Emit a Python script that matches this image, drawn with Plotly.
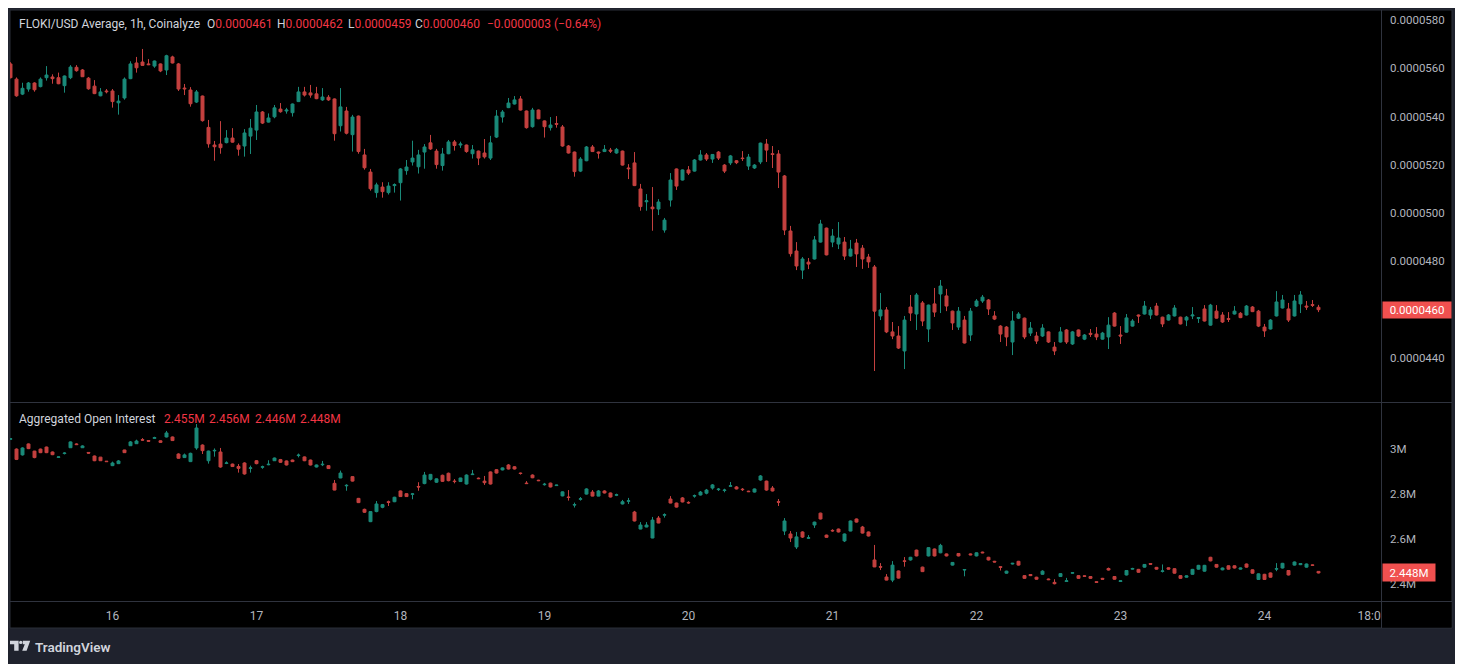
import plotly.graph_objects as go
import pandas as pd

# ---------------- data ----------------
start_time = "2024-01-15 07:00"
n_candles = 219
times = pd.date_range(start_time, periods=n_candles, freq="h")

# FLOKI/USD price, in units of 1e-7 USD
price_open = [561.8,555.5,549.3,551.4,553.9,552.4,556.1,556.4,556.1,552.8,556.1,560.4,559.3,555.9,552.6,548.6,550.6,550.6,545.7,547.7,
 555.7,562.2,562.6,561.8,560.9,561.8,559.3,564.7,561.8,551.8,551.0,546.0,548.5,535.5,528.2,528.6,529.2,531.1,528.1,527.8,
 531.9,534.4,541.9,537.7,539.9,543.1,542.3,541.6,546.2,550.2,549.8,549.4,546.9,548.0,547.3,536.2,542.3,532.5,540.2,524.1,
 517.0,508.5,510.8,508.5,511.4,512.6,517.6,521.2,519.2,525.3,529.1,525.7,519.7,524.6,529.5,528.2,528.2,524.6,525.7,524.9,
 522.8,531.5,539.8,543.7,545.2,547.3,542.3,535.8,542.7,538.2,535.4,537.1,535.7,527.8,525.3,517.4,521.7,527.4,525.3,525.5,
 526.1,524.9,525.7,518.7,520.8,510.0,504.7,502.5,501.7,493.0,505.4,518.3,513.7,517.9,517.4,522.0,524.1,522.4,525.3,519.9,
 520.8,521.7,522.8,519.5,518.7,521.2,528.6,524.6,524.5,515.4,492.6,484.3,476.4,479.7,481.0,488.0,493.8,488.0,487.2,488.0,
 482.2,487.6,485.5,481.8,477.7,457.4,459.9,450.8,449.1,442.9,461.1,458.2,462.8,452.0,462.4,466.5,465.7,459.4,452.8,455.7,
 449.5,461.5,463.6,464.0,457.4,453.2,452.8,446.6,456.5,456.5,450.3,449.1,449.1,450.8,444.5,446.6,451.6,445.8,451.6,447.8,
 450.2,449.9,447.8,448.7,458.6,449.5,450.7,453.2,457.8,458.2,457.8,461.5,456.9,455.7,457.4,456.9,455.7,457.4,456.4,460.3,
 453.6,459.4,457.8,456.3,458.2,458.5,457.8,461.1,459.4,452.8,452.0,457.4,460.7,460.3,457.4,462.4,461.5,462.1,461.0]
price_high = [562.5,556.2,554.0,554.3,554.2,556.2,560.9,557.5,558.2,557.0,561.3,561.3,559.7,556.4,555.1,551.8,551.4,551.4,548.9,556.2,
 562.9,564.7,568.0,563.8,563.2,562.0,565.6,565.2,562.2,553.5,552.2,551.0,548.7,538.6,529.9,538.1,534.4,535.2,528.9,534.8,
 539.0,544.8,542.3,541.3,544.8,545.6,543.6,545.4,552.3,552.3,553.1,552.3,551.8,548.9,547.5,551.8,544.0,540.7,540.4,526.6,
 518.3,512.6,512.8,512.8,512.3,518.7,522.0,530.0,526.2,528.6,532.4,526.6,527.0,530.3,530.3,529.6,528.4,528.2,525.9,530.7,
 532.0,542.7,542.7,547.7,548.5,548.5,542.5,543.6,542.9,538.4,539.8,540.2,536.5,528.2,525.5,523.2,527.8,528.2,525.5,528.2,
 527.0,527.0,525.9,520.3,525.3,512.1,507.9,510.8,505.8,498.0,516.6,518.5,518.1,519.5,522.4,526.1,524.9,524.5,525.7,520.3,
 524.1,522.0,525.7,524.5,520.3,529.2,530.7,527.8,526.1,515.8,494.7,488.0,481.8,481.4,490.5,497.2,494.0,493.4,496.3,490.1,
 488.9,489.3,486.8,483.1,478.5,466.9,461.1,454.9,453.2,457.4,466.1,466.9,463.6,462.1,469.0,472.3,468.6,459.6,461.1,457.4,
 460.7,464.4,466.1,464.4,459.4,453.6,453.2,459.4,459.0,456.7,454.9,450.8,454.0,451.0,446.6,452.8,452.0,451.2,451.8,449.9,
 452.0,452.8,450.8,456.9,459.0,453.2,458.2,456.1,458.0,463.6,461.1,462.8,457.1,458.2,461.9,457.1,457.4,461.1,456.9,461.9,
 462.4,461.9,459.0,459.0,461.5,459.0,461.9,461.5,459.9,454.1,456.1,467.7,466.1,462.8,466.1,467.7,463.6,464.0,462.0]
price_low = [555.8,548.2,548.9,550.3,550.3,552.1,554.9,553.6,553.4,549.9,555.5,558.6,556.4,551.1,549.3,548.4,549.6,543.7,540.8,547.0,
 555.5,558.2,561.1,561.3,560.2,558.4,557.2,562.0,550.6,548.9,544.1,545.6,537.9,527.1,521.7,524.6,528.9,529.2,523.8,523.4,
 524.5,530.3,536.9,537.5,539.3,541.6,541.2,540.0,546.0,548.3,547.8,547.2,546.5,546.5,530.0,533.8,532.6,525.5,524.6,518.0,
 509.3,506.4,506.4,507.7,508.5,505.2,515.9,519.7,516.4,518.4,526.2,518.4,517.6,524.4,525.9,527.0,525.0,522.6,519.9,522.6,
 522.0,531.1,537.5,543.5,545.0,542.5,535.0,535.4,538.9,531.3,534.2,535.4,527.5,524.7,515.1,517.0,521.5,525.3,522.6,525.3,
 524.9,524.6,519.7,514.1,511.2,501.0,501.0,492.7,499.2,491.9,502.7,509.6,513.5,515.8,517.2,521.8,521.6,520.8,522.0,516.6,
 519.9,520.3,521.6,517.9,518.3,520.3,521.2,518.7,510.4,490.9,482.0,476.4,472.7,476.8,480.8,487.8,482.5,485.9,485.1,480.6,
 482.0,477.7,476.9,477.3,434.6,455.7,450.3,447.8,443.7,435.4,455.3,451.6,453.2,446.6,457.0,458.6,459.4,451.6,451.6,446.0,
 447.0,461.1,462.8,457.8,455.7,446.6,444.9,441.2,456.1,447.8,449.1,445.8,448.7,446.2,441.2,446.4,445.8,445.4,448.7,447.4,
 448.7,447.4,447.6,443.7,453.0,445.8,450.5,453.0,454.5,458.0,456.1,457.6,452.8,455.5,457.2,453.9,453.2,456.1,454.5,455.1,
 453.4,456.3,454.5,454.9,458.0,456.5,457.6,459.0,452.8,448.7,451.8,457.2,460.5,454.9,457.2,458.6,459.9,461.1,459.0]
price_close = [556.1,548.6,551.7,553.9,551.1,555.5,557.2,555.7,553.6,556.8,560.5,559.0,556.5,551.5,549.5,550.2,550.3,546.2,546.4,555.5,
 561.8,560.2,561.2,561.5,563.0,558.9,565.2,562.2,551.4,551.5,545.3,550.2,538.3,528.7,527.5,527.1,531.1,529.4,526.5,533.2,
 535.2,541.9,537.3,539.4,543.6,542.0,542.7,545.2,550.2,548.9,548.9,547.4,548.1,546.9,532.9,544.0,533.1,539.8,525.5,518.8,
 510.1,511.7,508.9,511.2,511.8,518.3,519.1,522.8,524.1,527.4,526.6,520.1,524.5,529.5,528.0,528.6,525.5,526.2,522.8,523.3,
 529.1,540.2,541.9,545.6,546.9,542.7,535.4,542.7,539.1,535.8,536.5,536.8,527.8,524.9,517.2,522.4,527.4,525.5,524.9,526.4,
 525.7,526.4,519.9,518.4,511.4,502.7,505.1,501.8,504.6,497.1,513.7,511.2,517.9,516.6,522.0,524.1,522.4,524.3,522.8,517.4,
 523.7,520.9,522.6,523.2,519.9,529.0,526.1,524.3,517.0,493.0,483.2,478.1,481.0,478.9,488.9,495.5,482.7,490.5,489.7,482.2,
 485.1,483.1,481.0,479.8,459.4,459.9,450.8,449.1,444.1,455.7,458.6,466.1,455.3,461.9,459.0,469.8,461.5,454.5,459.4,446.2,
 459.4,463.6,465.2,460.3,456.1,449.9,448.7,455.3,458.2,448.7,452.4,447.0,452.4,446.6,442.9,450.8,446.6,450.8,449.1,449.5,
 449.8,448.7,450.3,453.6,453.2,449.1,456.6,455.3,457.4,461.5,459.9,457.8,454.1,457.8,460.7,454.1,456.9,457.8,456.7,455.3,
 461.9,456.5,454.9,456.0,459.4,456.7,461.5,459.2,453.2,451.2,455.7,463.2,464.0,455.7,463.6,466.1,461.1,461.8,460.0]

# Aggregated open interest, in millions
oi_open = [3.045,3.001,2.975,3.024,2.992,3.001,3.010,2.988,2.964,2.981,3.007,3.024,3.007,2.986,2.970,2.965,2.947,2.927,2.936,2.997,
 3.016,3.025,3.043,3.039,3.049,3.038,3.055,3.055,2.979,2.963,2.945,3.006,3.019,2.949,2.993,2.988,2.937,2.934,2.923,2.939,
 2.915,2.949,2.920,2.931,2.949,2.954,2.948,2.952,2.972,2.966,2.952,2.921,2.931,2.927,2.848,2.872,2.837,2.878,2.781,2.732,
 2.677,2.722,2.741,2.766,2.766,2.814,2.802,2.799,2.834,2.847,2.866,2.853,2.884,2.893,2.858,2.856,2.845,2.887,2.871,2.858,
 2.899,2.909,2.908,2.930,2.922,2.894,2.849,2.885,2.862,2.842,2.849,2.838,2.792,2.787,2.751,2.777,2.800,2.809,2.791,2.814,
 2.805,2.795,2.756,2.768,2.720,2.644,2.653,2.604,2.693,2.706,2.778,2.760,2.783,2.763,2.791,2.796,2.804,2.827,2.820,2.816,
 2.835,2.832,2.822,2.813,2.809,2.863,2.858,2.827,2.766,2.635,2.622,2.564,2.631,2.603,2.662,2.715,2.617,2.638,2.644,2.591,
 2.635,2.689,2.653,2.631,2.506,2.476,2.430,2.416,2.457,2.502,2.506,2.550,2.474,2.524,2.555,2.538,2.533,2.483,2.535,2.461,
 2.533,2.524,2.541,2.518,2.500,2.476,2.447,2.488,2.500,2.436,2.441,2.429,2.442,2.421,2.406,2.432,2.410,2.447,2.436,2.435,
 2.432,2.409,2.424,2.468,2.432,2.410,2.439,2.465,2.464,2.474,2.490,2.473,2.455,2.471,2.467,2.436,2.429,2.442,2.465,2.456,
 2.518,2.486,2.462,2.480,2.480,2.465,2.488,2.462,2.419,2.442,2.448,2.465,2.470,2.459,2.483,2.485,2.474,2.484,2.455]
oi_high = [3.048,3.004,3.009,3.026,2.993,3.003,3.012,2.990,2.968,2.987,3.035,3.027,3.018,2.987,2.972,2.966,2.948,2.945,2.952,2.998,
 3.037,3.043,3.050,3.040,3.056,3.040,3.082,3.057,2.982,2.981,2.985,3.113,3.022,2.994,3.004,3.006,2.946,2.936,2.934,2.942,
 2.927,2.952,2.927,2.951,2.963,2.957,2.950,2.954,2.981,2.968,2.954,2.932,2.948,2.929,2.863,2.905,2.844,2.880,2.783,2.735,
 2.724,2.769,2.756,2.771,2.788,2.816,2.804,2.805,2.853,2.899,2.890,2.870,2.887,2.896,2.867,2.873,2.888,2.908,2.874,2.881,
 2.901,2.912,2.919,2.934,2.925,2.896,2.858,2.888,2.864,2.850,2.851,2.842,2.812,2.818,2.762,2.787,2.826,2.818,2.818,2.817,
 2.807,2.802,2.774,2.783,2.725,2.675,2.675,2.698,2.702,2.714,2.791,2.762,2.787,2.768,2.798,2.814,2.823,2.845,2.827,2.824,
 2.854,2.836,2.827,2.815,2.825,2.885,2.860,2.836,2.778,2.693,2.635,2.631,2.634,2.617,2.677,2.717,2.619,2.643,2.646,2.624,
 2.682,2.691,2.658,2.633,2.573,2.492,2.443,2.501,2.459,2.519,2.520,2.552,2.476,2.563,2.557,2.578,2.535,2.497,2.537,2.463,
 2.535,2.540,2.543,2.520,2.502,2.478,2.458,2.493,2.502,2.438,2.443,2.431,2.460,2.423,2.420,2.447,2.426,2.451,2.438,2.437,
 2.434,2.411,2.426,2.472,2.434,2.415,2.461,2.471,2.466,2.488,2.492,2.475,2.486,2.473,2.469,2.438,2.437,2.466,2.484,2.484,
 2.520,2.488,2.472,2.482,2.482,2.472,2.490,2.464,2.446,2.444,2.450,2.492,2.493,2.461,2.499,2.492,2.490,2.486,2.456]
oi_low = [3.044,2.952,2.972,3.001,2.960,2.983,2.983,2.974,2.962,2.977,3.006,3.019,3.006,2.980,2.947,2.948,2.944,2.925,2.934,2.984,
 3.015,3.024,3.038,3.034,3.047,3.029,3.053,3.037,2.958,2.961,2.943,2.998,2.979,2.936,2.967,2.918,2.934,2.921,2.896,2.887,
 2.896,2.933,2.913,2.929,2.948,2.939,2.928,2.943,2.964,2.947,2.928,2.919,2.925,2.912,2.817,2.871,2.815,2.856,2.760,2.716,
 2.675,2.719,2.737,2.747,2.764,2.787,2.787,2.777,2.815,2.844,2.861,2.850,2.854,2.857,2.848,2.855,2.843,2.885,2.867,2.841,
 2.843,2.892,2.906,2.910,2.910,2.887,2.845,2.871,2.858,2.838,2.830,2.836,2.790,2.771,2.740,2.771,2.798,2.790,2.790,2.803,
 2.785,2.791,2.754,2.756,2.678,2.643,2.652,2.603,2.670,2.695,2.759,2.740,2.763,2.757,2.784,2.794,2.799,2.820,2.814,2.808,
 2.833,2.821,2.814,2.809,2.807,2.860,2.815,2.812,2.747,2.617,2.586,2.555,2.604,2.600,2.649,2.687,2.605,2.632,2.629,2.586,
 2.634,2.673,2.624,2.611,2.474,2.461,2.415,2.407,2.423,2.476,2.503,2.522,2.452,2.522,2.522,2.536,2.522,2.481,2.522,2.433,
 2.527,2.522,2.536,2.504,2.495,2.459,2.445,2.486,2.481,2.422,2.434,2.418,2.440,2.416,2.397,2.430,2.409,2.445,2.422,2.431,
 2.422,2.404,2.418,2.459,2.418,2.408,2.437,2.463,2.449,2.472,2.485,2.463,2.450,2.463,2.445,2.422,2.427,2.440,2.463,2.454,
 2.500,2.472,2.460,2.463,2.468,2.463,2.472,2.445,2.417,2.417,2.427,2.456,2.468,2.437,2.481,2.483,2.472,2.480,2.446]
oi_close = [3.047,2.955,3.006,3.003,2.963,2.985,2.985,2.976,2.966,2.983,3.033,3.021,3.015,2.983,2.949,2.949,2.945,2.939,2.948,2.985,
 3.033,3.037,3.041,3.036,3.052,3.031,3.073,3.039,2.960,2.975,2.982,3.095,2.994,2.992,2.995,2.921,2.939,2.923,2.915,2.890,
 2.917,2.936,2.922,2.933,2.961,2.942,2.930,2.945,2.974,2.949,2.930,2.930,2.933,2.914,2.818,2.894,2.839,2.858,2.762,2.719,
 2.722,2.756,2.753,2.763,2.786,2.789,2.789,2.801,2.832,2.885,2.888,2.868,2.857,2.860,2.856,2.872,2.885,2.889,2.869,2.851,
 2.845,2.894,2.917,2.912,2.912,2.892,2.847,2.873,2.860,2.844,2.832,2.840,2.810,2.785,2.753,2.779,2.823,2.791,2.814,2.805,
 2.787,2.797,2.766,2.770,2.680,2.662,2.662,2.684,2.671,2.708,2.760,2.742,2.765,2.761,2.793,2.809,2.818,2.841,2.822,2.818,
 2.837,2.823,2.820,2.811,2.823,2.881,2.818,2.814,2.764,2.680,2.604,2.609,2.608,2.605,2.675,2.689,2.607,2.636,2.631,2.622,
 2.680,2.675,2.626,2.613,2.475,2.474,2.416,2.483,2.425,2.500,2.518,2.524,2.454,2.561,2.524,2.571,2.524,2.495,2.524,2.463,
 2.529,2.538,2.538,2.506,2.497,2.473,2.456,2.491,2.483,2.424,2.436,2.420,2.456,2.418,2.400,2.445,2.413,2.449,2.424,2.433,
 2.424,2.406,2.420,2.461,2.420,2.413,2.459,2.468,2.451,2.486,2.487,2.465,2.457,2.465,2.447,2.424,2.435,2.464,2.482,2.482,
 2.502,2.474,2.470,2.465,2.470,2.470,2.474,2.447,2.444,2.419,2.429,2.467,2.491,2.439,2.497,2.490,2.488,2.482,2.448]

price_ticks = [440, 460, 480, 500, 520, 540, 560, 580]          # x 1e-7
oi_ticks = [2.4, 2.6, 2.8, 3.0]                                   # millions
oi_tick_text = ["2.4M", "2.6M", "2.8M", "3M"]
day_ticks = ["2024-01-16", "2024-01-17", "2024-01-18", "2024-01-19", "2024-01-20",
             "2024-01-21", "2024-01-22", "2024-01-23", "2024-01-24", "2024-01-24 18:00"]
day_tick_text = ["16", "17", "18", "19", "20", "21", "22", "23", "24", "18:00"]

header_title = "FLOKI/USD Average, 1h, Coinalyze"
header_pairs = [("O", "0.0000461"), ("H", "0.0000462"), ("L", "0.0000459"), ("C", "0.0000460")]
header_change = "\u22120.0000003 (\u22120.64%)"
oi_title = "Aggregated Open Interest"
oi_values = ["2.455M", "2.456M", "2.446M", "2.448M"]

# ---------------- styling / layout ----------------
W, H = 1463, 664
OFF = 8          # page body margin of the browser
PL, PR, PT, PB = 10, 1381, 10, 601   # plot area in screenshot pixels


def px(x):
    return (x - PL) / (PR - PL)


def py(y):
    return (PB - y) / (PB - PT)


UP = "#1a8a79"
DOWN = "#c4403f"
LABEL_RED = "#f23645"
TXT = "#d1d4dc"
AX = "#b2b5be"
LINE = "#2f333e"
FONT = "Roboto"

p_o = [v * 1e-7 for v in price_open]
p_h = [v * 1e-7 for v in price_high]
p_l = [v * 1e-7 for v in price_low]
p_c = [v * 1e-7 for v in price_close]
o_o = [v * 1e6 for v in oi_open]
o_h = [v * 1e6 for v in oi_high]
o_l = [v * 1e6 for v in oi_low]
o_c = [v * 1e6 for v in oi_close]

fig = go.Figure()
fig.add_trace(go.Candlestick(
    x=times, open=p_o, high=p_h, low=p_l, close=p_c, xaxis="x", yaxis="y",
    increasing=dict(line=dict(color=UP, width=1), fillcolor=UP),
    decreasing=dict(line=dict(color=DOWN, width=1), fillcolor=DOWN),
    whiskerwidth=0, showlegend=False, hoverinfo="skip"))
fig.add_trace(go.Candlestick(
    x=times, open=o_o, high=o_h, low=o_l, close=o_c, xaxis="x", yaxis="y2",
    increasing=dict(line=dict(color=UP, width=1), fillcolor=UP),
    decreasing=dict(line=dict(color=DOWN, width=1), fillcolor=DOWN),
    whiskerwidth=0, showlegend=False, hoverinfo="skip"))

shapes = [
    # black chart canvas
    dict(type="rect", xref="paper", yref="paper", layer="below",
         x0=px(10), x1=px(1452), y0=py(628), y1=py(10),
         fillcolor="#000000", line=dict(color="#2a2e39", width=1)),
    # cover for clipped time label under price scale
    dict(type="rect", xref="paper", yref="paper", layer="above",
         x0=px(1381.5), x1=px(1451.5), y0=py(627.5), y1=py(601.5),
         fillcolor="#000000", line=dict(width=0)),
    # pane separators
    dict(type="line", xref="paper", yref="paper", layer="above",
         x0=px(10), x1=px(1452), y0=py(402.5), y1=py(402.5), line=dict(color=LINE, width=1)),
    dict(type="line", xref="paper", yref="paper", layer="above",
         x0=px(10), x1=px(1452), y0=py(601.5), y1=py(601.5), line=dict(color=LINE, width=1)),
    dict(type="line", xref="paper", yref="paper", layer="above",
         x0=px(1381.5), x1=px(1381.5), y0=py(628), y1=py(10), line=dict(color=LINE, width=1)),
    # TradingView logo
    dict(type="path", xref="paper", yref="paper", layer="above",
         path=f"M {px(10)} {py(640.7)} L {px(18.6)} {py(640.7)} L {px(18.6)} {py(650.7)} L {px(14.2)} {py(650.7)} "
              f"L {px(14.2)} {py(644.2)} L {px(10)} {py(644.2)} Z",
         fillcolor=TXT, line=dict(width=0)),
    dict(type="circle", xref="paper", yref="paper", layer="above",
         x0=px(19.1), x1=px(22.4), y0=py(644.1), y1=py(640.8),
         fillcolor=TXT, line=dict(width=0)),
    dict(type="path", xref="paper", yref="paper", layer="above",
         path=f"M {px(22.8)} {py(640.7)} L {px(30.2)} {py(640.7)} L {px(26.6)} {py(650.7)} L {px(22.2)} {py(650.7)} "
              f"L {px(24.8)} {py(644.2)} L {px(22.8)} {py(644.2)} Z",
         fillcolor=TXT, line=dict(width=0)),
]

annotations = []


def text_ann(x, y, text, color=TXT, size=12):
    annotations.append(dict(xref="paper", yref="paper", x=px(x), y=py(y), text=text,
                            showarrow=False, xanchor="left", yanchor="middle",
                            font=dict(family=FONT, size=size, color=color)))


text_ann(16.5, 24, header_title)
pair_x = [205, 275, 346, 413]
for (lab, val), xx in zip(header_pairs, pair_x):
    text_ann(xx, 24, f"{lab}<span style='color:{LABEL_RED}'>{val}</span>")
text_ann(485, 24, header_change, color=LABEL_RED)

text_ann(16.5, 419, oi_title)
for val, xx in zip(oi_values, [161.5, 206.5, 252.5, 297.5]):
    text_ann(xx, 419, val, color=LABEL_RED)

annotations.append(dict(xref="paper", yref="paper", x=px(33), y=py(646.5), text="TradingView",
                        showarrow=False, xanchor="left", yanchor="middle",
                        font=dict(family=FONT, size=13.5, color=TXT, weight=600)))

# last value labels on the scales
annotations.append(dict(xref="paper", yref="y", x=px(1381.5), y=p_c[-1], text="0.0000460",
                        showarrow=False, xanchor="left", yanchor="middle", bgcolor="#f0504f",
                        width=65, height=13, borderpad=1.5, align="center",
                        font=dict(family=FONT, size=11.5, color="#ffffff")))
annotations.append(dict(xref="paper", yref="y2", x=px(1381.5), y=o_c[-1], text="2.448M",
                        showarrow=False, xanchor="left", yanchor="middle", bgcolor="#f0504f",
                        width=48, height=13, borderpad=2, align="center",
                        font=dict(family=FONT, size=11.5, color="#ffffff")))

fig.update_layout(
    width=W, height=H,
    margin=dict(l=PL - OFF, r=W - (PR - OFF), t=PT - OFF, b=H - (PB - OFF), pad=0),
    paper_bgcolor="#1f222d", plot_bgcolor="#000000",
    showlegend=False, hovermode=False,
    font=dict(family=FONT, color=AX),
    xaxis=dict(domain=[0, 1], anchor="y2", type="date",
               range=["2024-01-15 06:55", "2024-01-24 19:25"],
               tickvals=day_ticks, ticktext=day_tick_text,
               tickfont=dict(family=FONT, size=12, color=AX),
               showgrid=False, zeroline=False, showline=False, ticks="",
               ticklabelstandoff=6, rangeslider=dict(visible=False), fixedrange=True),
    yaxis=dict(domain=[py(402), 1], anchor="x", side="right",
               range=[421.76e-7, 584.14e-7],
               tickvals=[v * 1e-7 for v in price_ticks], tickformat=".7f",
               tickfont=dict(family=FONT, size=11.5, color=AX),
               showgrid=False, zeroline=False, showline=False, ticks="",
               ticklabelstandoff=8),
    yaxis2=dict(domain=[0, py(403)], anchor="x", side="right",
                range=[2.3228e6, 3.2067e6],
                tickvals=[v * 1e6 for v in oi_ticks], ticktext=oi_tick_text,
                tickfont=dict(family=FONT, size=11.5, color=AX),
                showgrid=False, zeroline=False, showline=False, ticks="",
                ticklabelstandoff=8),
    shapes=shapes, annotations=annotations,
)

fig.write_html("out.html")
